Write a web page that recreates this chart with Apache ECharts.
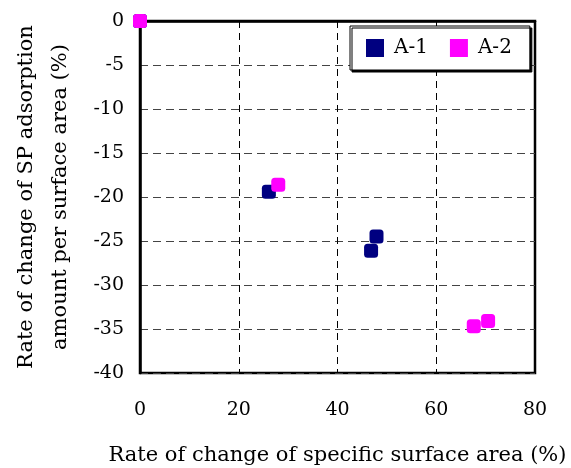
<!DOCTYPE html>
<html><head><meta charset="utf-8">
<script src="https://cdn.jsdelivr.net/npm/echarts@6/dist/echarts.min.js"></script>
<style>html,body{margin:0;padding:0;background:#fff}#c{width:571px;height:468px}</style>
</head><body><div id="c"></div>
<script>
const seriesNames = ['A-1', 'A-2'];
const a1X = [0, 26.1, 47.9, 46.8];
const a1Y = [0, -19.4, -24.5, -26.1];
const a2X = [0, 28.0, 67.6, 70.5];
const a2Y = [0, -18.6, -34.7, -34.1];
const xTicks = [0, 20, 40, 60, 80];
const yTicks = [0, -5, -10, -15, -20, -25, -30, -35, -40];
const xTitle = 'Rate of change of specific surface area (%)';
const yTitle = 'Rate of change of SP adsorption\namount per surface area (%)';

const font = 'DejaVu Serif';
const chart = echarts.init(document.getElementById('c'));
const pair = (xs, ys) => xs.map((x, i) => [x, ys[i]]);
chart.setOption({
  animation: false,
  backgroundColor: '#fff',
  grid: { left: 140, right: 36, top: 21, bottom: 95, show: true, borderColor: '#000', borderWidth: 2.5,
          backgroundColor: 'transparent', containLabel: false, outerBoundsMode: 'none' },
  legend: {
    data: seriesNames,
    left: 350, top: 26,
    orient: 'horizontal',
    icon: 'rect', itemWidth: 18, itemHeight: 18, itemGap: 22,
    padding: [12, 18, 12, 16],
    backgroundColor: '#fff', borderColor: '#000', borderWidth: 1,
    shadowColor: '#000', shadowOffsetX: 2, shadowOffsetY: 2, shadowBlur: 0,
    textStyle: { fontFamily: font, fontSize: 20, color: '#000', padding: [0, 0, 0, 5] }
  },
  xAxis: {
    type: 'value', min: xTicks[0], max: xTicks[xTicks.length - 1], interval: 20,
    name: xTitle, nameLocation: 'middle', nameGap: 72,
    nameTextStyle: { fontFamily: font, fontSize: 21, color: '#000' },
    axisLine: { show: true, lineStyle: { color: '#000', width: 2.5 } },
    axisTick: { show: false },
    axisLabel: { fontFamily: font, fontSize: 19, color: '#000', margin: 28 },
    splitLine: { show: true, lineStyle: { color: '#000', type: [7, 5], width: 1 } }
  },
  yAxis: {
    type: 'value', min: yTicks[yTicks.length - 1], max: yTicks[0], interval: 5,
    name: yTitle, nameLocation: 'middle', nameGap: 62, nameRotate: 90,
    nameTextStyle: { fontFamily: font, fontSize: 21, color: '#000', lineHeight: 34 },
    axisLine: { show: true, lineStyle: { color: '#000', width: 2.5 } },
    axisTick: { show: false },
    axisLabel: { fontFamily: font, fontSize: 19, color: '#000', margin: 16 },
    splitLine: { show: true, lineStyle: { color: '#444', type: [8, 5], width: 1 } }
  },
  series: [
    { name: seriesNames[0], type: 'scatter', data: pair(a1X, a1Y), symbol: 'roundRect', symbolSize: 14,
      itemStyle: { color: '#000080', opacity: 1 }, z: 3 },
    { name: seriesNames[1], type: 'scatter', data: pair(a2X, a2Y), symbol: 'roundRect', symbolSize: 14,
      itemStyle: { color: '#ff00ff', opacity: 1 }, z: 4 }
  ]
});
</script></body></html>
